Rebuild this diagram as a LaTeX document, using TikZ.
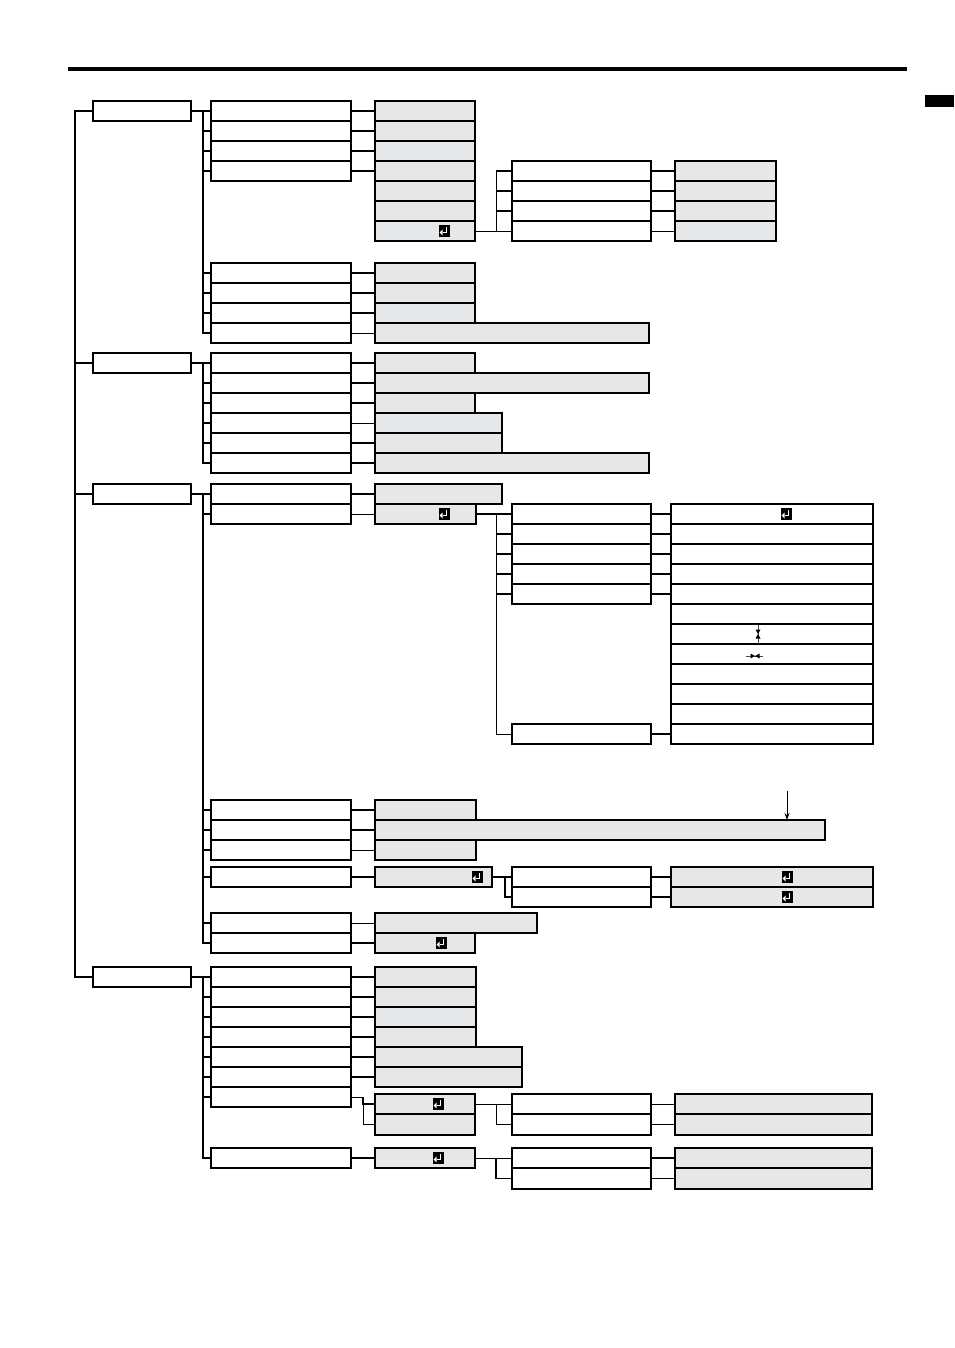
\documentclass[tikz,border=0pt]{standalone}
\usetikzlibrary{arrows.meta}
\definecolor{boxgray}{RGB}{230,231,232}
\tikzset{
 base/.style={draw=black, line width=1.6pt, inner sep=0pt, outer sep=0pt, anchor=north west},
 wb/.style={base, fill=white},
 gb/.style={base, fill=boxgray},
 tk/.style={line width=1.8pt},
 tn/.style={line width=0.9pt},
 enterkey/.pic={
  \fill[black] (-5.5,-6) rectangle (5.5,6);
  \draw[white, line width=1.3pt] (2.5,-4) -- (2.5,1.5) -- (-1.5,1.5);
  \fill[white] (-4.5,1.5) -- (-1.5,-1.3) -- (-1.5,4.3) -- cycle;
 }
}
\newcommand\bx[6]{\node[#1, minimum width={(#4)-(#2)}, minimum height={(#5)-(#3)}] (#6) at (#2,#3) {};}
\begin{document}
\begin{tikzpicture}[x=1pt,y=-1pt]
\useasboundingbox (0,0) rectangle (954,1348);
% header
\draw[line width=3.5pt] (68,69) -- (907,69);
\fill (925,95) rectangle (954,107);

% level 1
\bx{wb}{93}{101}{191}{121}{L1a}
\bx{wb}{93}{353}{191}{373}{L1b}
\bx{wb}{93}{484}{191}{504}{L1c}
\bx{wb}{93}{967}{191}{987}{L1d}

% ---------- group A
\foreach \i in {1,...,4} {\bx{wb}{211}{81+20*\i}{351}{101+20*\i}{a\i}}
\foreach \i in {5,...,8} {\bx{wb}{211}{163+20*\i}{351}{183+20*\i}{a\i}}
\foreach \i in {1,...,7} {\bx{gb}{375}{81+20*\i}{475}{101+20*\i}{g\i}}
\foreach \i in {8,9,10} {\bx{gb}{375}{103+20*\i}{475}{123+20*\i}{g\i}}
\bx{gb}{375}{323}{649}{343}{g11}
\foreach \i in {1,...,4} {\bx{wb}{512}{141+20*\i}{651}{161+20*\i}{s\i}}
\foreach \i in {1,...,4} {\bx{gb}{675}{141+20*\i}{776}{161+20*\i}{h\i}}

% ---------- group B
\foreach \i in {1,...,6} {\bx{wb}{211}{333+20*\i}{351}{353+20*\i}{b\i}}
\bx{gb}{375}{353}{475}{373}{bg1}
\bx{gb}{375}{393}{475}{413}{bg3}
\bx{gb}{375}{373}{649}{393}{bg2}
\bx{gb}{375}{413}{502}{433}{bg4}
\bx{gb}{375}{433}{502}{453}{bg5}
\bx{gb}{375}{453}{649}{473}{bg6}

% ---------- group C
\bx{wb}{211}{484}{351}{504}{c1}
\bx{wb}{211}{504}{351}{524}{c2}
\bx{gb}{375}{484}{502}{504}{cg1}
\bx{gb}{375}{504}{476}{524}{cg2}
\foreach \i in {1,...,5} {\bx{wb}{512}{484+20*\i}{651}{504+20*\i}{cs\i}}
\bx{wb}{512}{724}{651}{744}{cs6}
\foreach \i in {1,...,12} {\bx{wb}{671}{484+20*\i}{873}{504+20*\i}{cr\i}}
\bx{wb}{211}{800}{351}{820}{c3}
\bx{wb}{211}{820}{351}{840}{c4}
\bx{wb}{211}{840}{351}{860}{c5}
\bx{wb}{211}{867}{351}{887}{c6}
\bx{wb}{211}{913}{351}{933}{c7}
\bx{wb}{211}{933}{351}{953}{c8}
\bx{gb}{375}{800}{476}{820}{cg3}
\bx{gb}{375}{840}{476}{860}{cg5}
\bx{gb}{375}{820}{825}{840}{cg4}
\bx{gb}{375}{867}{492}{887}{cg6}
\bx{gb}{375}{913}{537}{933}{cg7}
\bx{gb}{375}{933}{475}{953}{cg8}
\bx{wb}{512}{867}{651}{887}{cs7}
\bx{wb}{512}{887}{651}{907}{cs8}
\bx{gb}{671}{867}{873}{887}{cr13}
\bx{gb}{671}{887}{873}{907}{cr14}

% ---------- group D
\foreach \i in {1,...,7} {\bx{wb}{211}{947+20*\i}{351}{967+20*\i}{d\i}}
\bx{wb}{211}{1148}{351}{1168}{d8}
\foreach \i in {1,...,4} {\bx{gb}{375}{947+20*\i}{476}{967+20*\i}{dg\i}}
\foreach \i in {5,6} {\bx{gb}{375}{947+20*\i}{522}{967+20*\i}{dg\i}}
\bx{gb}{375}{1094}{475}{1114}{dg7}
\bx{gb}{375}{1114}{475}{1135}{dg8}
\bx{gb}{375}{1148}{475}{1168}{dg9}
\bx{wb}{512}{1094}{651}{1114}{ds1}
\bx{wb}{512}{1114}{651}{1135}{ds2}
\bx{gb}{675}{1094}{872}{1114}{dr1}
\bx{gb}{675}{1114}{872}{1135}{dr2}
\bx{wb}{512}{1148}{651}{1168}{ds3}
\bx{wb}{512}{1168}{651}{1189}{ds4}
\bx{gb}{675}{1148}{872}{1168}{dr3}
\bx{gb}{675}{1168}{872}{1189}{dr4}

% ---------- connectors: level 0
\coordinate (v0) at (75,111);
\draw[tk] (L1a.west) -- (v0) |- (L1d.west);
\draw[tk] (v0) |- (L1b.west);
\draw[tk] (v0) |- (L1c.west);

% group A
\draw[tk] (L1a.east) -- (a1.west);
\coordinate (vA) at (203,111);
\foreach \n in {a2,a3,a4,a5,a6,a7,a8} {\draw[tk] (vA) |- (\n.west);}
\draw[tk] (a1.east) -- (g1.west);
\draw[tk] (a2.east) -- (g2.west);
\draw[tk] (a3.east) -- (g3.west);
\draw[tk] (a4.east) -- (g4.west);
\draw[tk] (a5.east) -- (g8.west);
\draw[tk] (a6.east) -- (g9.west);
\draw[tk] (a7.east) -- (g10.west);
\draw[tn] (a8.east) -- (g11.west);
\draw[tn] (g7.east) -- (s4.west);
\coordinate (vAs) at (496,231);
\draw[tn] (vAs) -- (vAs |- s1.west);
\foreach \n in {s1,s2,s3} {\draw[tk] (\n.west -| vAs) -- (\n.west);}
\draw[tk] (s1.east) -- (h1.west);
\draw[tk] (s2.east) -- (h2.west);
\draw[tk] (s3.east) -- (h3.west);
\draw[tn] (s4.east) -- (h4.west);

% group B
\draw[tk] (L1b.east) -- (b1.west);
\coordinate (vB) at (203,363);
\foreach \n in {b2,b3,b4,b5,b6} {\draw[tk] (vB) |- (\n.west);}
\draw[tk] (b1.east) -- (bg1.west);
\draw[tk] (b2.east) -- (bg2.west);
\draw[tk] (b3.east) -- (bg3.west);
\draw[tn] (b4.east) -- (bg4.west);
\draw[tk] (b5.east) -- (bg5.west);
\draw[tk] (b6.east) -- (bg6.west);

% group C
\draw[tk] (L1c.east) -- (c1.west);
\coordinate (vC) at (203,494);
\foreach \n in {c2,c3,c4,c5,c6,c7,c8} {\draw[tk] (vC) |- (\n.west);}
\draw[tk] (c1.east) -- (cg1.west);
\draw[tn] (c2.east) -- (cg2.west);
\draw[tk] (c3.east) -- (cg3.west);
\draw[tk] (c4.east) -- (cg4.west);
\draw[tn] (c5.east) -- (cg5.west);
\draw[tk] (c6.east) -- (cg6.west);
\draw[tn] (c7.east) -- (cg7.west);
\draw[tk] (c8.east) -- (cg8.west);
\draw[tk] (cg2.east) -- (cs1.west);
\coordinate (vCs) at (496,514);
\draw[tn] (vCs) |- (cs6.west);
\foreach \n in {cs2,cs3,cs4,cs5} {\draw[tk] (\n.west -| vCs) -- (\n.west);}
\foreach \i in {1,...,5} {\draw[tk] (cs\i.east) -- (cr\i.west);}
\draw[tk] (cs6.east) -- (cr12.west);
\draw[tk] (cg6.east) -- (cs7.west);
\coordinate (vCt) at (505,877);
\draw[tk] (vCt) |- (cs8.west);
\draw[tk] (cs7.east) -- (cr13.west);
\draw[tk] (cs8.east) -- (cr14.west);
\coordinate (arrtop) at (787,791);
\draw[line width=1pt, -{Stealth[length=7pt,width=5pt]}] (arrtop) -- (arrtop |- cg4.north);

% group D
\draw[tk] (L1d.east) -- (d1.west);
\coordinate (vD) at (203,977);
\foreach \n in {d2,d3,d4,d5,d6,d7,d8} {\draw[tk] (vD) |- (\n.west);}
\foreach \i in {1,...,6} {\draw[tk] (d\i.east) -- (dg\i.west);}
\coordinate (vDd) at (363,1097);
\draw[tn] (d7.east) -- (vDd) |- (dg8.west);
\draw[tk] (vDd) |- (dg7.west);
\draw[tk] (d8.east) -- (dg9.west);
\draw[tn] (dg7.east) -- (ds1.west);
\coordinate (vDs) at (496,1104);
\draw[tn] (vDs) |- (ds2.west);
\draw[tn] (ds1.east) -- (dr1.west);
\draw[tn] (ds2.east) -- (dr2.west);
\draw[tn] (dg9.east) -- (ds3.west);
\coordinate (vDt) at (496,1158);
\draw[tk] (vDt) |- (ds4.west);
\draw[tk] (ds3.east) -- (dr3.west);
\draw[tk] (ds4.east) -- (dr4.west);

% enter symbols
\pic at (444,231) {enterkey};
\pic at (444,514) {enterkey};
\pic at (786,514) {enterkey};
\pic at (477,877) {enterkey};
\pic at (787,877) {enterkey};
\pic at (787,897) {enterkey};
\pic at (441,943) {enterkey};
\pic at (438,1104) {enterkey};
\pic at (438,1158) {enterkey};

% keystone icons
\draw[black!70, line width=0.6pt] (758,625) -- (758,644);
\fill (755.5,629.5) -- (760.5,629.5) -- (758,634) -- cycle;
\fill (755.5,638.5) -- (760.5,638.5) -- (758,634) -- cycle;
\draw[black!70, line width=0.6pt] (746,656) -- (763,656);
\fill (750.5,653.5) -- (750.5,658.5) -- (755,656) -- cycle;
\fill (759.5,653.5) -- (759.5,658.5) -- (755,656) -- cycle;
\end{tikzpicture}
\end{document}
